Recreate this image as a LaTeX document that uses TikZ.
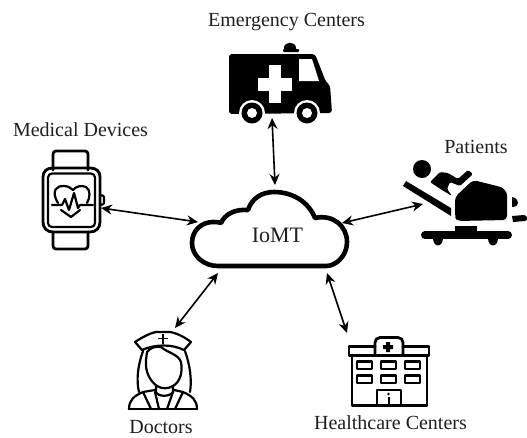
\documentclass[tikz,border=0pt]{standalone}
\usepackage{fontspec}
\setmainfont{Liberation Serif}
\usetikzlibrary{arrows.meta}
\tikzset{
 lbl/.style={font=\fontsize{20}{24}\selectfont,inner sep=0pt,text=black!88},
 conn/.style={{Stealth[length=11pt,width=10pt]}-{Stealth[length=11pt,width=10pt]},line width=1.6pt},
 icon/.style={line width=2.8pt,line join=round,line cap=round},
 thin icon/.style={line width=2.2pt,line join=round,line cap=round},
}
\begin{document}
\begin{tikzpicture}[x=1pt,y=-1pt]
\useasboundingbox (0,0) rectangle (527,437);
\fill[white] (0,0) rectangle (527,437);
% Labels
\node[lbl] (lemergency) at (286.5,22) {Emergency Centers};
\node[lbl] (lmedical) at (80.5,130) {Medical Devices};
\node[lbl] (lpatients) at (476,147) {Patients};
\node[lbl,font=\fontsize{22}{26}\selectfont] (liomt) at (277.5,235) {IoMT};
\node[lbl] (ldoctors) at (161,427) {Doctors};
\node[lbl] (lhealth) at (390.5,423) {Healthcare Centers};
% Cloud
\draw[line width=4.6pt,line join=round]
 (218,266) .. controls (204,266) and (192,256) .. (192,243)
 .. controls (192,230) and (202,222) .. (213,222)
 .. controls (216,222) and (219,222) .. (221,223)
 .. controls (225,214) and (235,209) .. (248,210)
 .. controls (252,198) and (262,192) .. (274,192)
 .. controls (294,192) and (309,203) .. (315,218)
 .. controls (333,214) and (347,226) .. (347,242)
 .. controls (347,256) and (336,266) .. (326,266) -- cycle;
% Ambulance
\fill[rounded corners=3pt] (229,54) -- (315,54) -- (326,82) -- (330,85) -- (332,113) -- (229,114) -- cycle;
\fill (284,50) -- (284,48) .. controls (284,41) and (296,41) .. (296,48) -- (296,50) -- cycle;
\fill[rounded corners=1pt] (283,49) rectangle (299,52);
\fill[white] (299,59) -- (312,59) -- (319,81) -- (299,81) -- cycle;
\fill[white] (269,65) rectangle (281,103);
\fill[white] (258,78) rectangle (292,91);
\foreach \cx in {252,307}{
 \fill[white] (\cx,113) circle[radius=13];
 \fill (\cx,113) circle[radius=10.5];
 \fill[white] (\cx,113) circle[radius=5];
}
% Watch
\draw[icon,rounded corners=3pt] (53,170) -- (53,151) -- (88,151) -- (88,170);
\draw[icon,rounded corners=3pt] (53,232) -- (53,249) -- (88,249) -- (88,232);
\draw[icon] (43,177) .. controls (43,171) and (47,168) .. (53,168) -- (90,168) .. controls (96,168) and (100,171) .. (100,177) -- (100,222) .. controls (100,228) and (96,232) .. (90,232) -- (53,232) .. controls (47,232) and (43,228) .. (43,222) -- cycle;
\draw[thin icon,rounded corners=4pt] (48,173.5) rectangle (95,227);
\draw[thin icon,rounded corners=1pt] (100,195) -- (104,196) -- (104,204) -- (100,205);
\draw[thin icon] (58,203) .. controls (50,190) and (58,185) .. (64,186) .. controls (68,186) and (71,188) .. (73,190)
 .. controls (76,186) and (82,185) .. (86,187) .. controls (91,190) and (90,198) .. (87,203);
\draw[thin icon] (52,205) -- (62,205) -- (65,199) -- (69,210) -- (74,193) -- (78,208) -- (80,205) -- (93,205);
\draw[thin icon] (61,210) -- (71,217) -- (80,210);
% Patient
\fill (422,169) circle[radius=9];
\fill (406,181) -- (451,208) -- (451,216) -- (403,186) -- cycle;
\fill[line join=round,rounded corners=1.5pt] (430,182) -- (440,172) -- (448,173) -- (458,179) -- (468,170) -- (473,174) -- (460,186) -- (450,182) -- (447,189) -- (452,196) -- (442,190) -- cycle;
\fill[rounded corners=4pt] (473,180) -- (497,186) .. controls (504,188) and (507,193) .. (507,199) -- (507,220) -- (457,221) -- (455,217) -- (455,197) -- cycle;
\fill (512,197) .. controls (517,198) and (518,201) .. (518,203) .. controls (518,205) and (516,207) .. (512,207) -- cycle;
\fill (512,216) -- (524,215) .. controls (528,216) and (528,220) .. (525,221) -- (513,222) -- cycle;
\draw[line width=8pt,line cap=round] (425,235) -- (508,235);
\fill (455,226) rectangle (477,233);
\fill (433,238) .. controls (433,248) and (443,248) .. (443,238) -- cycle;
\fill (488,238) .. controls (488,248) and (498,248) .. (498,238) -- cycle;
% Nurse
\draw[thin icon] (135,342) .. controls (141,338) and (150,333) .. (156,332) -- (170,332) .. controls (177,333) and (186,338) .. (191,342) -- (184,350) .. controls (172,344) and (155,344) .. (142,350) -- cycle;
\draw[line width=1.8pt] (158,338.5) -- (168,338.5) (163,334) -- (163,343.5);
\draw[thin icon] (143,351) .. controls (138,365) and (136,380) .. (139,392);
\draw[thin icon] (185,351) .. controls (190,365) and (192,380) .. (190,392);
\draw[thin icon] (147,352) .. controls (150,348) and (155,346) .. (161,347) .. controls (168,353) and (178,354) .. (181,362) .. controls (183,372) and (180,382) .. (173,386) .. controls (168,389) and (162,389) .. (157,386) .. controls (150,381) and (145,372) .. (146,360) -- cycle;
\draw[thin icon] (156,386) -- (156,392) .. controls (158,397) and (170,397) .. (173,392) -- (173,386);
\draw[thin icon] (129,409) .. controls (129,400) and (134,396) .. (143,392) -- (155,390);
\draw[thin icon] (197,409) .. controls (197,400) and (192,396) .. (183,392) -- (174,390);
\draw[thin icon] (129,409) -- (197,409);
\draw[thin icon] (143,392) -- (151,409) (155,392) -- (159,409);
\draw[thin icon] (183,392) -- (175,409) (173,392) -- (167,409);
% Hospital
\draw[icon] (375,346.5) -- (349,346.5) -- (349,355.5) -- (429,355.5) -- (429,346.5) -- (403,346.5);
\draw[icon,rounded corners=5pt] (375,354) -- (375,337.5) -- (403,337.5) -- (403,354);
\draw[icon] (352,356) -- (352,405.5) -- (427,405.5) -- (427,356);
\draw[icon] (357,361.5) rectangle (372,369) (381,361.5) rectangle (396,369) (405,361.5) rectangle (420,369);
\draw[icon] (357,375.5) rectangle (372,383) (381,375.5) rectangle (396,383) (405,375.5) rectangle (420,383);
\draw[icon] (377,405) -- (377,390) -- (401,390) -- (401,405);
\fill (386,342) -- (390,342) -- (390,345) -- (393,345) -- (393,349) -- (390,349) -- (390,352) -- (386,352) -- (386,349) -- (383,349) -- (383,345) -- (386,345) -- cycle;
\fill (388.5,394) circle[radius=1.4];
\fill (387.5,397) rectangle (389.5,405);
% Connector ends
\coordinate (amb) at (272,118);
\coordinate (cloudN) at (275,185);
\coordinate (watch) at (101,208);
\coordinate (cloudW) at (198,222);
\coordinate (pat) at (423,204);
\coordinate (cloudE) at (342,223);
\coordinate (nurse) at (175,328);
\coordinate (cloudSW) at (218,273);
\coordinate (hosp) at (347,333);
\coordinate (cloudSE) at (327,273);
\draw[conn] (amb) -- (cloudN);
\draw[conn] (watch) -- (cloudW);
\draw[conn] (cloudE) -- (pat);
\draw[conn] (nurse) -- (cloudSW);
\draw[conn] (cloudSE) -- (hosp);
\end{tikzpicture}
\end{document}
